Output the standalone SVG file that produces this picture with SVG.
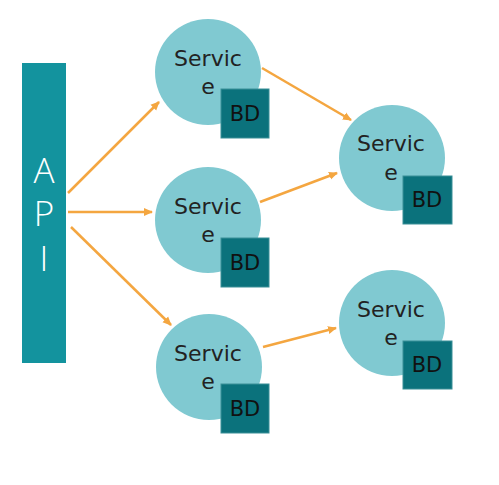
<svg xmlns="http://www.w3.org/2000/svg" width="499" height="485" viewBox="0 0 499 485">
<style>
.svc{fill:#80c9d1}
.db{fill:#0b727c;stroke:#3a8f97;stroke-width:1}
.t{font-family:"DejaVu Sans","Open Sans",sans-serif;font-size:22px;fill:#222;text-anchor:middle}
.bd{font-family:"DejaVu Sans","Open Sans",sans-serif;font-size:21px;fill:#111;text-anchor:middle}
.api{font-family:"Open Sans","DejaVu Sans",sans-serif;font-weight:300;font-size:35px;fill:#fff;text-anchor:middle}
.c{stroke:#f4a640;stroke-width:2.5;fill:none;marker-end:url(#ah)}
</style>
<defs>
<marker id="ah" markerWidth="10" markerHeight="10" refX="8" refY="5" orient="auto" markerUnits="userSpaceOnUse">
<path d="M0,1 L9,5 L0,9 Z" fill="#f4a640"/>
</marker>
</defs>
<rect width="499" height="485" fill="#fff"/>
<g id="api">
<rect x="22" y="63" width="44" height="300" fill="#13939e"/>
<text class="api" x="44" y="183">A</text>
<text class="api" x="44" y="226">P</text>
<text class="api" x="44" y="271">I</text>
</g>
<g id="connectors">
<line class="c" x1="68" y1="193" x2="159" y2="102"/>
<line class="c" x1="68" y1="212" x2="152" y2="212"/>
<line class="c" x1="71" y1="227" x2="171" y2="325"/>
<line class="c" x1="262" y1="68" x2="351" y2="120"/>
<line class="c" x1="260" y1="202" x2="337" y2="173"/>
<line class="c" x1="263" y1="347" x2="336" y2="328"/>
</g>
<g id="service1">
<circle class="svc" cx="208" cy="72" r="53"/>
<text class="t" x="208" y="66">Servic</text>
<text class="t" x="208" y="94">e</text>
<rect class="db" x="221" y="89" width="48" height="49"/>
<text class="bd" x="245" y="121">BD</text>
</g>
<g id="service2">
<circle class="svc" cx="208" cy="220" r="53"/>
<text class="t" x="208" y="214">Servic</text>
<text class="t" x="208" y="242">e</text>
<rect class="db" x="221" y="238" width="48" height="49"/>
<text class="bd" x="245" y="270">BD</text>
</g>
<g id="service3">
<circle class="svc" cx="209" cy="367" r="53"/>
<text class="t" x="208" y="361">Servic</text>
<text class="t" x="208" y="389">e</text>
<rect class="db" x="221" y="384" width="48" height="49"/>
<text class="bd" x="245" y="416">BD</text>
</g>
<g id="service4">
<circle class="svc" cx="392" cy="158" r="53"/>
<text class="t" x="391" y="151">Servic</text>
<text class="t" x="391" y="180">e</text>
<rect class="db" x="403" y="176" width="49" height="48"/>
<text class="bd" x="427" y="207">BD</text>
</g>
<g id="service5">
<circle class="svc" cx="392" cy="323" r="53"/>
<text class="t" x="391" y="317">Servic</text>
<text class="t" x="391" y="345">e</text>
<rect class="db" x="403" y="341" width="49" height="48"/>
<text class="bd" x="427" y="372">BD</text>
</g>
</svg>
